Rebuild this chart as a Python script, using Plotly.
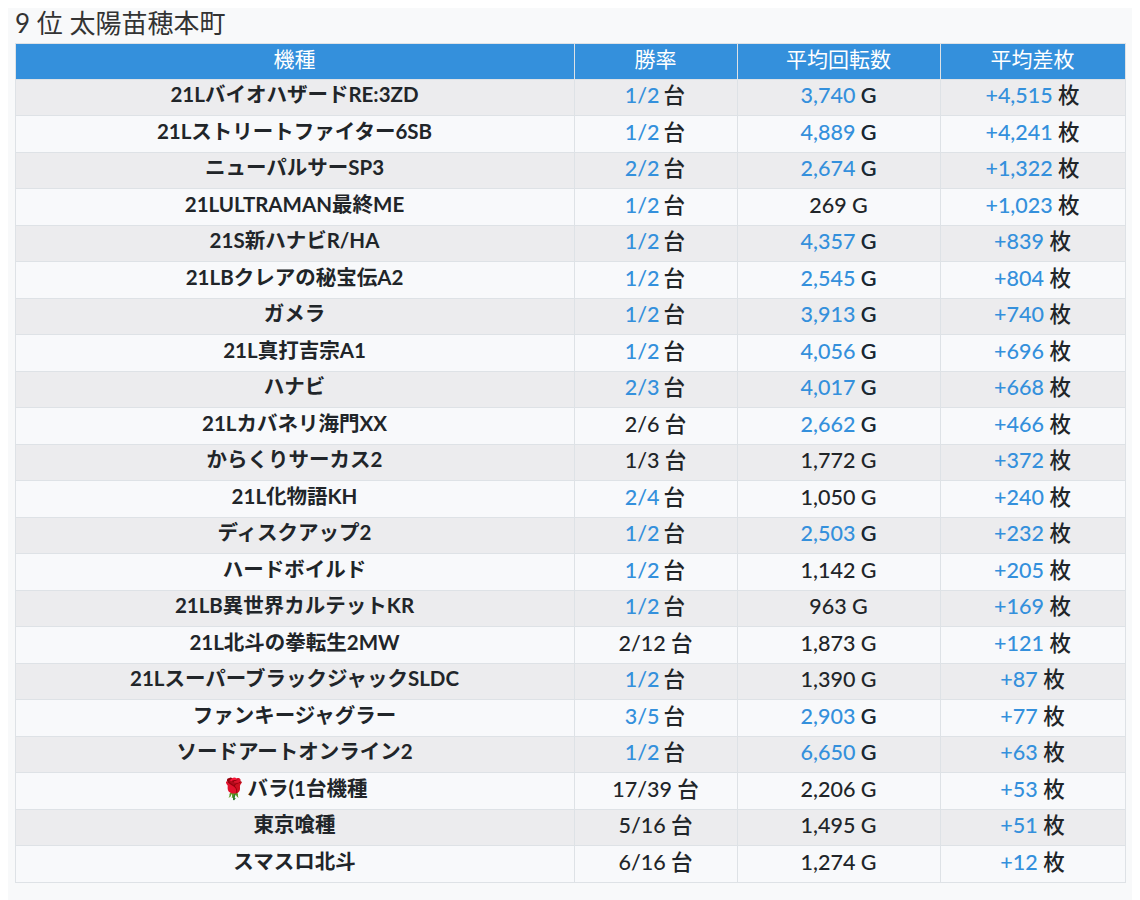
import plotly.graph_objects as go

# データ
title_text = "9 位 太陽苗穂本町"
headers = ["機種", "勝率", "平均回転数", "平均差枚"]

machines = [
    "21LバイオハザードRE:3ZD",
    "21Lストリートファイター6SB",
    "ニューパルサーSP3",
    "21LULTRAMAN最終ME",
    "21S新ハナビR/HA",
    "21LBクレアの秘宝伝A2",
    "ガメラ",
    "21L真打吉宗A1",
    "ハナビ",
    "21Lカバネリ海門XX",
    "からくりサーカス2",
    "21L化物語KH",
    "ディスクアップ2",
    "ハードボイルド",
    "21LB異世界カルテットKR",
    "21L北斗の拳転生2MW",
    "21LスーパーブラックジャックSLDC",
    "ファンキージャグラー",
    "ソードアートオンライン2",
    "🌹バラ(1台機種",
    "東京喰種",
    "スマスロ北斗",
]
wins = [1, 1, 2, 1, 1, 1, 1, 1, 2, 2, 1, 2, 1, 1, 1, 2, 1, 3, 1, 17, 5, 6]
units = [2, 2, 2, 2, 2, 2, 2, 2, 3, 6, 3, 4, 2, 2, 2, 12, 2, 5, 2, 39, 16, 16]
avg_games = [3740, 4889, 2674, 269, 4357, 2545, 3913, 4056, 4017, 2662, 1772, 1050,
             2503, 1142, 963, 1873, 1390, 2903, 6650, 2206, 1495, 1274]
avg_diff = [4515, 4241, 1322, 1023, 839, 804, 740, 696, 668, 466, 372, 240,
            232, 205, 169, 121, 87, 77, 63, 53, 51, 12]

BLUE = "#3490dc"
DARK = "#212529"
FONT = "Lato, Noto Sans CJK JP"
NBSP = "\u00a0"
IDSP = "\u3000"  # 全角スペース (漢字1文字分の幅)

n = len(machines)
win_txt = [f"{w}/{u}" for w, u in zip(wins, units)]
games_txt = [f"{g:,}" for g in avg_games]
diff_txt = [f"{d:+,}" for d in avg_diff]
win_good = [w / u >= 0.5 for w, u in zip(wins, units)]
games_good = [g >= 2500 for g in avg_games]
diff_good = [d > 0 for d in avg_diff]

# 数字を同じ幅の空白に置き換える (単位だけを正しい位置に出すため)
blank = str.maketrans("0123456789,+/", "\u2007" * 10 + "\u2008" + "\u2007" + "\u2004")


def split_cells(txts, goods, unit):
    # table のセルは1色しか持てない (タグを入れると行が高くなる) ので
    # 下の表に黒い部分、上の表に青い数字だけを描いて重ねる
    under = [(t.translate(blank) if ok else t) + NBSP + unit for t, ok in zip(txts, goods)]
    over = [t + IDSP + NBSP if ok else "" for t, ok in zip(txts, goods)]
    return under, over


under_win, over_win = split_cells(win_txt, win_good, "台")
under_diff, over_diff = split_cells(diff_txt, diff_good, "枚")
# 回転数は単位 G が漢字でないので、下に全文 (色付き)、上に黒い G を重ねる
under_games = [t + NBSP + "G" for t in games_txt]
over_games = [t.translate(blank) + NBSP + "G" if ok else "" for t, ok in zip(games_txt, games_good)]

row_fill = ["#ececee" if i % 2 == 0 else "#f8f9fb" for i in range(n)]
col_widths = [559, 163, 203, 185]
cell_sizes = [20.5, 21.5, 21.5, 21.5]
cell_weights = [700, 500, 500, 500]

base = go.Table(
    columnwidth=col_widths,
    header=dict(
        values=headers,
        fill_color=BLUE,
        line_color="#dee2e6",
        align="center",
        height=36,
        font=dict(family=FONT, size=21, color="white"),
    ),
    cells=dict(
        values=[machines, under_win, under_games, under_diff],
        fill_color=[row_fill] * 4,
        line_color="#dee2e6",
        align="center",
        height=36.5,
        font=dict(
            family=FONT,
            size=cell_sizes,
            weight=cell_weights,
            color=[[DARK] * n, [DARK] * n,
                   [BLUE if ok else DARK for ok in games_good], [DARK] * n],
        ),
    ),
)

top = go.Table(
    columnwidth=col_widths,
    header=dict(
        values=[""] * 4,
        fill_color="rgba(0,0,0,0)",
        line_width=0,
        height=36,
    ),
    cells=dict(
        values=[[""] * n, over_win, over_games, over_diff],
        fill_color="rgba(0,0,0,0)",
        line_width=0,
        align="center",
        height=36.5,
        font=dict(
            family=FONT,
            size=cell_sizes,
            weight=cell_weights,
            color=[DARK, BLUE, DARK, BLUE],
        ),
    ),
)

fig = go.Figure([base, top])

# ページ余白 8px 分ずらす
fig.update_layout(
    width=1132,
    height=892,
    paper_bgcolor="#f8f9fa",
    margin=dict(l=7, r=15, t=35, b=0),
    title=dict(
        text=title_text,
        x=7 / 1132, xanchor="left",
        y=1 - 15.5 / 892, yanchor="middle", yref="container",
        font=dict(family=FONT, size=26, color="#333333"),
    ),
)

fig.write_html("out.html")
